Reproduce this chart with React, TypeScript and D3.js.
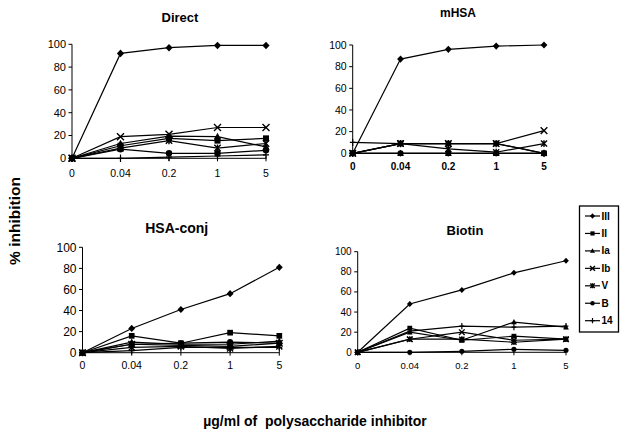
import React from "react";
import * as d3 from "d3";

const categories = ["0", "0.04", "0.2", "1", "5"];
const seriesNames = ["III", "II", "Ia", "Ib", "V", "B", "14"];
const markerTypes = ["diamond", "square", "triangle", "x", "star", "circle", "plus"];

const directIII = [0, 92, 97, 99, 99];
const directII = [0, 11, 17.5, 15.5, 17.5];
const directIa = [0, 13, 19.5, 19, 10];
const directIb = [0, 19, 21, 27, 27];
const directV = [0, 9, 15.5, 9, 13];
const directB = [0, 8, 4.4, 4.4, 7];
const direct14 = [0, 0, 1, 2, 3];

const mhsaIII = [0, 87, 96, 99, 100];
const mhsaII = [0, 9, 9, 9, 0];
const mhsaIa = [0, 0, 0, 0, 0];
const mhsaIb = [0, 9, 9, 9, 21];
const mhsaV = [0, 9, 4, 1, 9];
const mhsaB = [0, 0, 0, 0, 0];
const mhsa14 = [10, 9, 9, 9, 0];

const conjIII = [0, 23, 41, 56, 81];
const conjII = [0, 16, 9, 19, 16];
const conjIa = [0, 10, 8, 8, 11];
const conjIb = [0, 8, 7, 6, 9];
const conjV = [0, 5, 6, 4, 6];
const conjB = [0, 8, 9, 10, 9];
const conj14 = [0, 2, 5, 5, 5];

const biotinIII = [0, 48, 62, 79, 91];
const biotinII = [0, 24, 12, 16, 13];
const biotinIa = [0, 20, 12, 30, 25];
const biotinIb = [0, 13, 20, 12, 13];
const biotinV = [0, 13, 13, 10, 13];
const biotinB = [0, 0, 1, 3, 2];
const biotin14 = [0, 21, 26, 25, 26];

const yTicks = [0, 20, 40, 60, 80, 100];

const panels = [
  {
    title: "Direct", data: [directIII, directII, directIa, directIb, directV, directB, direct14],
    x0: 72, x1: 266, yb: 158.3, yt: 44.3, tx: 180, ty: 21.5, tfs: 13,
    yfs: 11, xfs: 10.5, xly: 177, xBold: false, ms: 1.0,
  },
  {
    title: "mHSA", data: [mhsaIII, mhsaII, mhsaIa, mhsaIb, mhsaV, mhsaB, mhsa14],
    x0: 352.7, x1: 544, yb: 153.3, yt: 45, tx: 458, ty: 17, tfs: 12,
    yfs: 10.5, xfs: 10, xly: 169.5, xBold: true, ms: 0.95,
  },
  {
    title: "HSA-conj", data: [conjIII, conjII, conjIa, conjIb, conjV, conjB, conj14],
    x0: 82.5, x1: 279.3, yb: 352.7, yt: 247.3, tx: 176.7, ty: 233, tfs: 14,
    yfs: 12, xfs: 10.5, xly: 369, xBold: false, ms: 0.95,
  },
  {
    title: "Biotin", data: [biotinIII, biotinII, biotinIa, biotinIb, biotinV, biotinB, biotin14],
    x0: 357.7, x1: 566, yb: 352.3, yt: 251.7, tx: 465, ty: 235, tfs: 13,
    yfs: 10, xfs: 9.5, xly: 368.5, xBold: false, ms: 0.8,
  },
];

const FONT = "'Liberation Sans', Arial, Helvetica, sans-serif";

function Marker({ type, x, y, s }: { type: string; x: number; y: number; s: number }) {
  const k = s;
  switch (type) {
    case "diamond":
      return <path d={`M${x},${y - 3.8 * k}L${x + 3.6 * k},${y}L${x},${y + 3.8 * k}L${x - 3.6 * k},${y}Z`} fill="#000" />;
    case "square":
      return <rect x={x - 3 * k} y={y - 3 * k} width={6 * k} height={6 * k} fill="#000" />;
    case "triangle":
      return <path d={`M${x},${y - 3.8 * k}L${x + 3.6 * k},${y + 2.8 * k}L${x - 3.6 * k},${y + 2.8 * k}Z`} fill="#000" />;
    case "x":
      return (
        <path d={`M${x - 3.5 * k},${y - 3.5 * k}L${x + 3.5 * k},${y + 3.5 * k}M${x + 3.5 * k},${y - 3.5 * k}L${x - 3.5 * k},${y + 3.5 * k}`}
          stroke="#000" strokeWidth={1.4} fill="none" />
      );
    case "star":
      return (
        <path d={`M${x - 3.2 * k},${y - 3.2 * k}L${x + 3.2 * k},${y + 3.2 * k}M${x + 3.2 * k},${y - 3.2 * k}L${x - 3.2 * k},${y + 3.2 * k}M${x},${y - 3.6 * k}L${x},${y + 3.6 * k}`}
          stroke="#000" strokeWidth={1.4} fill="none" />
      );
    case "circle":
      return <circle cx={x} cy={y} r={3.2 * k} fill="#000" />;
    case "plus":
      return (
        <path d={`M${x},${y - 3.8 * k}L${x},${y + 3.8 * k}M${x - 3 * k},${y}L${x + 3 * k},${y}`}
          stroke="#000" strokeWidth={1.2} fill="none" />
      );
    default:
      return null;
  }
}

function Panel({ p }: { p: (typeof panels)[number] }) {
  const x = d3.scalePoint<string>().domain(categories).range([p.x0, p.x1]).padding(0);
  const y = d3.scaleLinear().domain([0, 100]).range([p.yb, p.yt]);
  const line = d3
    .line<number>()
    .x((_, i) => x(categories[i]) as number)
    .y((d) => y(d));
  return (
    <g>
      <text x={p.tx} y={p.ty} textAnchor="middle" fontFamily={FONT} fontWeight="bold" fontSize={p.tfs}>
        {p.title}
      </text>
      <line x1={p.x0} x2={p.x0} y1={y(0)} y2={y(100)} stroke="#000" strokeWidth={1} />
      {yTicks.map((t) => (
        <g key={t}>
          <line x1={p.x0 - 3.5} x2={p.x0} y1={y(t)} y2={y(t)} stroke="#000" strokeWidth={1} />
          <text x={p.x0 - 6} y={y(t)} dy="0.35em" textAnchor="end" fontFamily={FONT} fontSize={p.yfs}>
            {t}
          </text>
        </g>
      ))}
      <line x1={p.x0} x2={p.x1} y1={y(0)} y2={y(0)} stroke="#000" strokeWidth={1} />
      {categories.map((c) => (
        <g key={c}>
          <line x1={x(c)} x2={x(c)} y1={y(0) - 2} y2={y(0) + 3} stroke="#000" strokeWidth={1} />
          <text x={x(c)} y={p.xly} textAnchor="middle" fontFamily={FONT} fontSize={p.xfs}
            fontWeight={p.xBold ? "bold" : "normal"}>
            {c}
          </text>
        </g>
      ))}
      {p.data.map((vals, si) => (
        <path key={"l" + si} d={line(vals) || ""} fill="none" stroke="#000" strokeWidth={1.2} />
      ))}
      {p.data
        .map((vals, si) => ({ vals, si }))
        .reverse()
        .map(({ vals, si }) => (
          <g key={"m" + si}>
            {vals.map((v, i) => (
              <Marker key={i} type={markerTypes[si]} x={x(categories[i]) as number} y={y(v)} s={p.ms} />
            ))}
          </g>
        ))}
    </g>
  );
}

function Legend() {
  const ly = d3.scalePoint<string>().domain(seriesNames).range([216, 320.7]).padding(0);
  return (
    <g>
      <rect x={579.5} y={206} width={39} height={126} fill="#fff" stroke="#000" strokeWidth={1.3} />
      {seriesNames.map((n, i) => {
        const yy = ly(n) as number;
        return (
          <g key={n}>
            <line x1={585} x2={600} y1={yy} y2={yy} stroke="#000" strokeWidth={1.2} />
            <Marker type={markerTypes[i]} x={592.5} y={yy} s={0.7} />
            <text x={601.5} y={yy} dy="0.35em" fontFamily={FONT} fontWeight="bold" fontSize={10}>
              {n}
            </text>
          </g>
        );
      })}
    </g>
  );
}

export default function App() {
  return (
    <svg width={625} height={444} viewBox="0 0 625 444"
      style={{ position: "fixed", top: 0, left: 0, background: "#fff" }}>
      <rect width={625} height={444} fill="#fff" />
      {panels.map((p) => (
        <Panel key={p.title} p={p} />
      ))}
      <Legend />
      <text transform="translate(20,221) rotate(-90)" textAnchor="middle" fontFamily={FONT} fontWeight="bold" fontSize={15.5}>
        % inhibition
      </text>
      <text x={315} y={426} textAnchor="middle" fontFamily={FONT} fontWeight="bold" fontSize={14}
        style={{ whiteSpace: "pre" }}>
        {"µg/ml of  polysaccharide inhibitor"}
      </text>
    </svg>
  );
}
